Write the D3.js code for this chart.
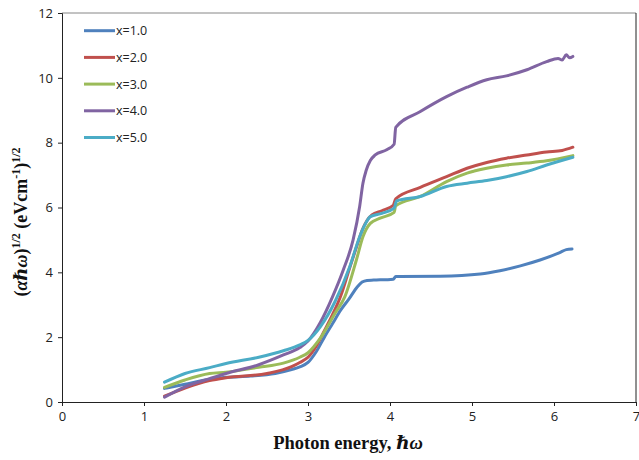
<!DOCTYPE html>
<html>
<head>
<meta charset="utf-8">
<script src="https://cdn.jsdelivr.net/npm/d3@7"></script>
<style>
  body { margin: 0; background: #fff; }
  svg { display: block; }
  .tick text { font-family: "Open Sans", "Liberation Sans", sans-serif; font-size: 13px; fill: #222; }
</style>
</head>
<body>
<div id="d3_container"></div>
<script>
// data: [photon energy, (a hw)^1/2]
var x1 = [[1.25,0.42],[1.5,0.55],[1.8,0.7],[2.0,0.76],[2.3,0.8],[2.6,0.88],[2.8,1.0],[2.9,1.08],[3.0,1.22],[3.1,1.55],[3.2,2.0],[3.3,2.42],[3.4,2.84],[3.5,3.18],[3.6,3.55],[3.66,3.7],[3.72,3.75],[3.8,3.76],[4.04,3.79],[4.07,3.87],[4.12,3.87],[4.61,3.88],[5.1,3.95],[5.34,4.05],[5.59,4.2],[5.83,4.38],[6.07,4.61],[6.15,4.7],[6.22,4.72]];
var x2 = [[1.25,0.18],[1.5,0.43],[1.8,0.66],[2.0,0.75],[2.5,0.88],[2.8,1.09],[2.9,1.22],[3.0,1.38],[3.1,1.72],[3.2,2.2],[3.3,2.7],[3.4,3.28],[3.5,4.07],[3.6,4.85],[3.66,5.3],[3.72,5.6],[3.78,5.77],[3.9,5.9],[4.04,6.07],[4.07,6.27],[4.37,6.62],[4.69,6.95],[4.94,7.21],[5.18,7.39],[5.42,7.52],[5.67,7.62],[5.91,7.71],[6.1,7.76],[6.23,7.86]];
var x3 = [[1.25,0.45],[1.5,0.68],[1.8,0.88],[2.0,0.92],[2.4,1.07],[2.7,1.2],[2.9,1.38],[3.0,1.52],[3.15,1.97],[3.33,2.74],[3.45,3.25],[3.59,4.38],[3.67,5.1],[3.76,5.51],[3.88,5.67],[4.05,5.85],[4.07,6.05],[4.37,6.34],[4.69,6.8],[4.94,7.06],[5.18,7.21],[5.42,7.31],[5.67,7.37],[5.91,7.44],[6.23,7.6]];
var x4 = [[1.25,0.15],[1.5,0.47],[1.8,0.72],[2.0,0.88],[2.4,1.15],[2.7,1.45],[2.9,1.68],[3.0,1.88],[3.15,2.45],[3.3,3.25],[3.43,4.07],[3.55,5.0],[3.63,6.03],[3.67,6.75],[3.71,7.15],[3.76,7.45],[3.82,7.62],[3.96,7.78],[4.05,7.95],[4.07,8.47],[4.37,8.96],[4.69,9.42],[4.94,9.71],[5.18,9.94],[5.42,10.06],[5.67,10.25],[5.91,10.5],[6.05,10.6],[6.1,10.55],[6.15,10.71],[6.19,10.62],[6.23,10.66]];
var x5 = [[1.25,0.61],[1.5,0.88],[1.8,1.06],[2.0,1.19],[2.4,1.38],[2.7,1.58],[2.9,1.76],[3.0,1.9],[3.15,2.32],[3.33,3.1],[3.51,4.18],[3.63,5.1],[3.7,5.5],[3.76,5.72],[3.9,5.82],[4.05,5.98],[4.08,6.2],[4.37,6.34],[4.69,6.65],[4.94,6.75],[5.18,6.83],[5.42,6.95],[5.67,7.11],[5.91,7.31],[6.23,7.55]];

var labels = ["x=1.0", "x=2.0", "x=3.0", "x=4.0", "x=5.0"];
var colors = ["#4F81BD", "#C0504D", "#9BBB59", "#8064A2", "#4BACC6"];
var series = [x1, x2, x3, x4, x5];
var xTicks = [0, 1, 2, 3, 4, 5, 6, 7];
var yTicks = [0, 2, 4, 6, 8, 10, 12];

var width = 639, height = 460;
var margin = {left: 62, top: 13, right: 3, bottom: 58};

var svg = d3.select("#d3_container").append("svg")
    .attr("width", width)
    .attr("height", height);

var x = d3.scaleLinear().domain([0, 7]).range([margin.left, width - margin.right]);
var y = d3.scaleLinear().domain([0, 12]).range([height - margin.bottom, margin.top]);

// plot frame (top gray, right dark)
svg.append("line")
    .attr("x1", x(0)).attr("x2", x(7))
    .attr("y1", y(12)).attr("y2", y(12))
    .attr("stroke", "#868686").attr("stroke-width", 1);
svg.append("line")
    .attr("x1", x(7)).attr("x2", x(7))
    .attr("y1", y(12)).attr("y2", y(0))
    .attr("stroke", "#222").attr("stroke-width", 1);

var xAxis = svg.append("g")
    .attr("transform", "translate(0," + y(0) + ")")
    .call(d3.axisBottom(x).tickValues(xTicks).tickSize(4).tickPadding(6).tickFormat(d3.format("d")));
var yAxis = svg.append("g")
    .attr("transform", "translate(" + x(0) + ",0)")
    .call(d3.axisLeft(y).tickValues(yTicks).tickSize(4).tickPadding(5).tickFormat(d3.format("d")));
svg.selectAll(".domain").attr("stroke", "#222");
svg.selectAll(".tick line").attr("stroke", "#222");

var line = d3.line()
    .x(function(d) { return x(d[0]); })
    .y(function(d) { return y(d[1]); })
    .curve(d3.curveMonotoneX);

svg.append("g")
    .selectAll("path")
    .data(series)
    .enter().append("path")
    .attr("fill", "none")
    .attr("stroke", function(d, i) { return colors[i]; })
    .attr("stroke-width", 3)
    .attr("stroke-linejoin", "round")
    .attr("stroke-linecap", "round")
    .attr("d", line);

// legend
var legend = svg.append("g").attr("class", "legend");
labels.forEach(function(lab, i) {
    var ly = 30.7 + i * 26.7;
    legend.append("line")
        .attr("x1", 84).attr("x2", 115)
        .attr("y1", ly).attr("y2", ly)
        .attr("stroke", colors[i]).attr("stroke-width", 3);
    legend.append("text")
        .attr("x", 116).attr("y", ly + 4.5)
        .attr("font-family", "'Open Sans', 'Liberation Sans', sans-serif")
        .attr("font-size", 12.5)
        .attr("fill", "#222")
        .text(lab);
});

// axis titles
svg.append("text")
    .attr("x", 348).attr("y", 449)
    .attr("text-anchor", "middle")
    .attr("font-family", "'Liberation Serif', 'DejaVu Serif', serif")
    .attr("font-weight", "bold")
    .attr("font-size", 18.5)
    .attr("fill", "#111")
    .call(function(t) {
        t.append("tspan").text("Photon energy, ");
        t.append("tspan").attr("font-style", "italic").text("\u210F\u03C9");
    });

var yt = svg.append("text")
    .attr("transform", "translate(27,222) rotate(-90)")
    .attr("text-anchor", "middle")
    .attr("font-family", "'Liberation Serif', 'DejaVu Serif', serif")
    .attr("font-weight", "bold")
    .attr("font-size", 18)
    .attr("fill", "#111");
yt.append("tspan").text("(");
yt.append("tspan").attr("font-style", "italic").text("\u03B1\u210F\u03C9");
yt.append("tspan").text(")");
yt.append("tspan").attr("dy", -7).attr("font-size", 12).text("1/2");
yt.append("tspan").attr("dy", 7).text(" (eVcm");
yt.append("tspan").attr("dy", -7).attr("font-size", 12).text("-1");
yt.append("tspan").attr("dy", 7).text(")");
yt.append("tspan").attr("dy", -7).attr("font-size", 12).text("1/2");
</script>
</body>
</html>
